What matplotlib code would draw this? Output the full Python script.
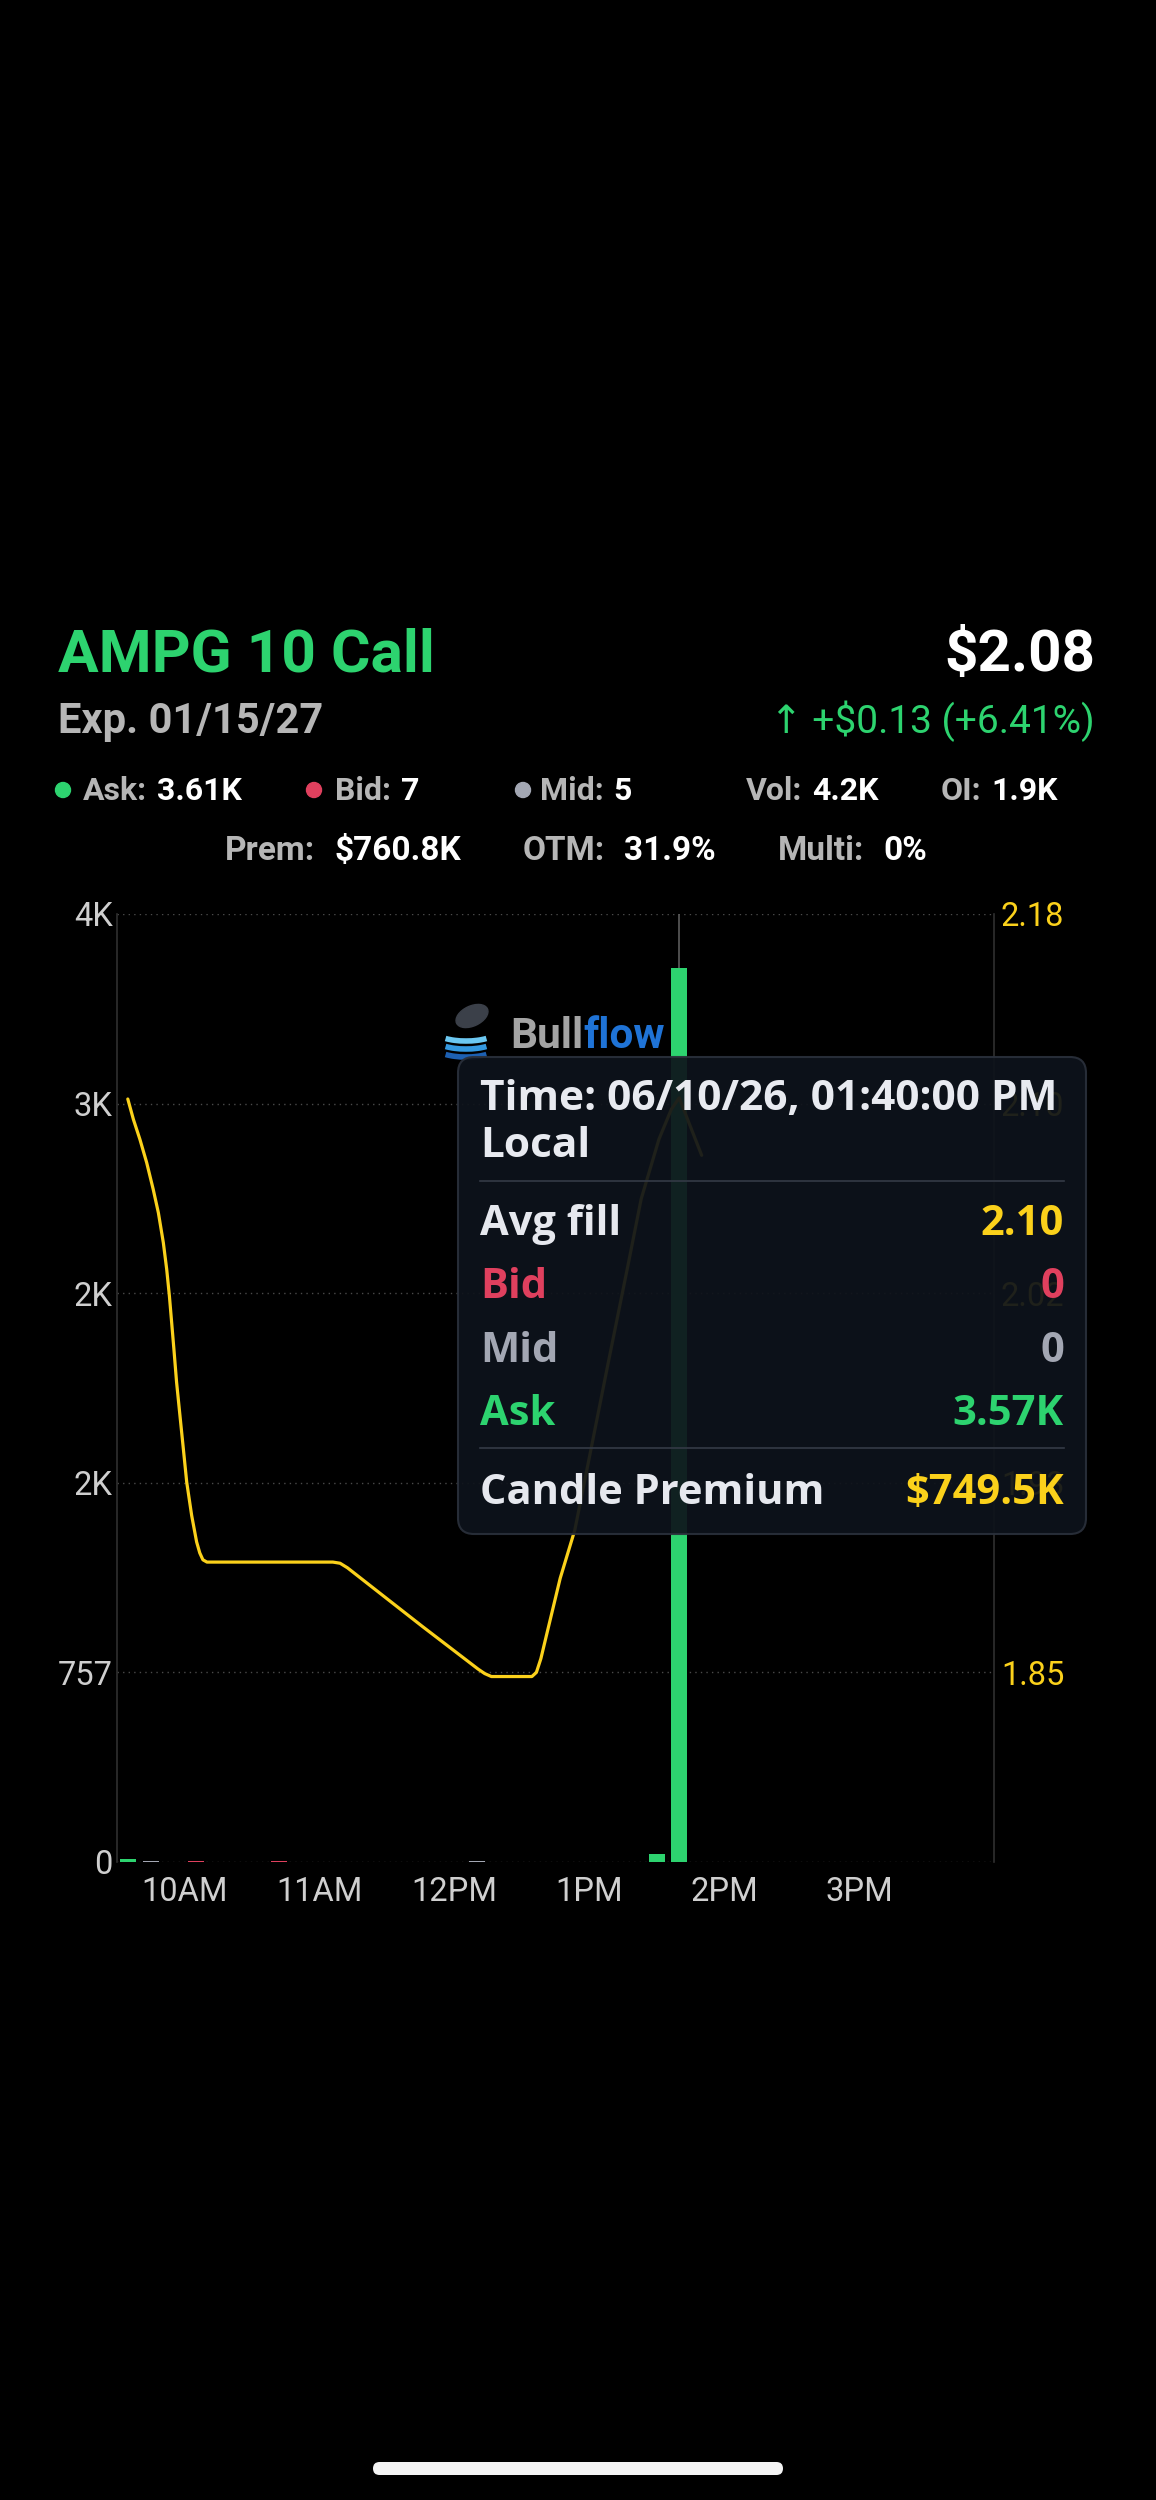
import matplotlib.pyplot as plt
from matplotlib.patches import FancyBboxPatch, Ellipse, Arc
from matplotlib.ticker import FuncFormatter

W, H = 1156, 2500

GREEN = "#2dd36f"
YELLOW = "#fbd11b"
RED = "#e0405e"
MIDGRAY = "#a3a7b3"
LABEL = "#b6b6b6"
TICK = "#cfcfcf"

# header
contract = "AMPG 10 Call"
last_price = "$2.08"
expiry = "Exp. 01/15/27"
change = "↑ +$0.13 (+6.41%)"
row1_labels = ["Ask:", "Bid:", "Mid:", "Vol:", "OI:"]
row1_values = ["3.61K", "7", "5", "4.2K", "1.9K"]
row2_labels = ["Prem:", "OTM:", "Multi:"]
row2_values = ["$760.8K", "31.9%", "0%"]

# volume bars, minutes after the 9:30 open
bar_minutes = [5, 15, 35, 72, 160, 240, 250]
bar_side = ["ask", "mid", "bid", "bid", "mid", "ask", "ask"]
bar_volume = [10, 3, 4, 3, 2, 30, 3570]

# avg fill price line, minutes after the open
price_minutes = [4.8, 7.3, 10.2, 13.2, 16.1, 18.4, 20.6, 22.1, 23.3, 24.3, 25.3, 26.5,
                 28.0, 29.5, 31.0, 33.2, 35.4, 36.8, 38.2, 40.0, 96.0, 99.2, 102.5,
                 135.8, 160.5, 163.5, 166.5, 184.5, 186.5, 188.5, 190.7, 197.1, 203.6,
                 207.9, 218.3, 227.2, 233.1, 241.0, 246.5, 250.0, 260.0]
price_values = [2.0995, 2.0906, 2.0819, 2.0718, 2.0602, 2.0500, 2.0370, 2.0254, 2.0138,
                2.0023, 1.9907, 1.9762, 1.9617, 1.9473, 1.9328, 1.9183, 1.9068, 1.9020,
                1.8990, 1.8980, 1.8980, 1.8975, 1.8955, 1.8700, 1.8515, 1.8495, 1.8482,
                1.8482, 1.8500, 1.8560, 1.8650, 1.8910, 1.9120, 1.9330, 1.9840, 2.0270,
                2.0560, 2.0820, 2.0950, 2.1000, 2.0750]

vol_ticks = [0, 757, 1514, 2271, 3028, 3785]
price_ticks = [1.85, 1.9325, 2.015, 2.0975, 2.18]
price_tick_labels = ["1.85", "1.93", "2.02", "2.10", "2.18"]
time_ticks = [30, 90, 150, 210, 270, 330]
time_labels = ["10AM", "11AM", "12PM", "1PM", "2PM", "3PM"]

# tooltip
tip_time = "Time: 06/10/26, 01:40:00 PM"
tip_zone = "Local"
tip_labels = ["Avg fill", "Bid", "Mid", "Ask"]
tip_values = ["2.10", "0", "0", "3.57K"]
tip_label_colors = ["#e6e8ee", RED, MIDGRAY, GREEN]
tip_value_colors = [YELLOW, RED, MIDGRAY, GREEN]
tip_premium = ("Candle Premium", "$749.5K")

side_colors = {"ask": GREEN, "bid": RED, "mid": MIDGRAY}

plt.rcParams["font.family"] = ["Roboto", "DejaVu Sans"]
TIPFONT = ["Open Sans", "DejaVu Sans"]

fig = plt.figure(figsize=(W / 100, H / 100), dpi=100, facecolor="black")
renderer = fig.canvas.get_renderer()
T = fig.dpi_scale_trans


def P(x, y):
    # screen pixels (from top-left) -> inches
    return x / 100, (H - y) / 100


def txt(x, y, s, **kw):
    kw.setdefault("va", "baseline")
    return fig.text(*P(x, y), s, transform=T, **kw)


def width(t):
    return t.get_window_extent(renderer).width


# ---- header ----
txt(58, 671, contract, color=GREEN, fontsize=43.5, fontweight="bold")
txt(1095, 671, last_price, color="white", fontsize=42, fontweight="bold", ha="right")
txt(58, 733, expiry, color=LABEL, fontsize=30, fontweight="bold")
txt(1095, 733, change, color=GREEN, fontsize=28, ha="right")

row1_x = [83, 335, 540, 746, 941]
dot_x = [63, 314, 523]
dot_colors = [GREEN, RED, MIDGRAY]
for x, c in zip(dot_x, dot_colors):
    fig.patches.append(Ellipse(P(x, 790), 0.15, 0.15, transform=T, color=c))

for x, lab, val in zip(row1_x, row1_labels, row1_values):
    t = txt(x, 800, lab, color=LABEL, fontsize=23, fontweight="bold")
    txt(x + width(t) + 10, 800, val, color="white", fontsize=23, fontweight="bold")

row2_x = [225, 523, 778]
for x, lab, val in zip(row2_x, row2_labels, row2_values):
    t = txt(x, 860, lab, color=LABEL, fontsize=24, fontweight="bold")
    txt(x + width(t) + 19, 860, val, color="white", fontsize=24, fontweight="bold")

# ---- chart ----
left, right, top, bottom = 117, 994, 914, 1862
ax = fig.add_axes([left / W, 1 - bottom / H, (right - left) / W, (bottom - top) / H])
ax.set_facecolor("none")
ax.set_xlim(0, 390)
ax.set_ylim(0, 3785)

ax.axvline(250, color="#5c5c5c", lw=1.2, zorder=1)
ax.bar(bar_minutes, bar_volume, width=7, color=[side_colors[s] for s in bar_side], zorder=2)

ax.set_yticks(vol_ticks)
ax.yaxis.set_major_formatter(FuncFormatter(
    lambda v, _: f"{v / 1000:.0f}K" if v >= 1000 else f"{v:.0f}"))
ax.set_xticks(time_ticks, labels=time_labels)
ax.yaxis.grid(True, color="#4a4a4a", linestyle=(0, (1, 3)), lw=1)
ax.set_axisbelow(True)
ax.tick_params(axis="y", length=0, pad=3, labelsize=23.5, labelcolor=TICK)
ax.tick_params(axis="x", length=0, pad=10, labelsize=23.5, labelcolor=TICK)
for s in ["top", "bottom"]:
    ax.spines[s].set_visible(False)
for s in ["left", "right"]:
    ax.spines[s].set_color("#2f2f2f")
    ax.spines[s].set_linewidth(1.2)

ax2 = ax.twinx()
ax2.set_ylim(1.85 - 757 * (0.33 / 3028), 2.18)
ax2.plot(price_minutes, price_values, color=YELLOW, lw=2.3, solid_joinstyle="round",
         solid_capstyle="round", zorder=3)
ax2.set_yticks(price_ticks, labels=price_tick_labels)
ax2.tick_params(axis="y", length=0, pad=5, labelsize=23.5, labelcolor=YELLOW)
for s in ["top", "bottom", "left", "right"]:
    ax2.spines[s].set_visible(False)

# ---- watermark ----
for i, c in enumerate(["#6cc8f2", "#3499e0", "#1d60b2"]):
    fig.patches.append(Arc(P(466, 1033 + i * 8), 0.56, 0.16, theta1=195, theta2=345,
                           transform=T, color=c, lw=4, zorder=5))
fig.patches.append(Ellipse(P(472, 1016), 0.34, 0.2, angle=25, transform=T,
                           color="#3b4049", zorder=4))
tb = txt(510, 1048, "Bull", color="#a4a4a4", fontsize=30.5, fontweight="bold", zorder=5)
txt(510 + width(tb), 1048, "flow", color="#1f73d6", fontsize=30.5, fontweight="bold", zorder=5)

# ---- tooltip ----
x0, y0, x1, y1 = 458, 1057, 1086, 1534
bx, by = P(x0, y1)
fig.patches.append(FancyBboxPatch((bx, by), (x1 - x0) / 100, (y1 - y0) / 100,
                                  boxstyle="round,pad=0,rounding_size=0.16", transform=T,
                                  facecolor="#0e131b", edgecolor="#2a303b", lw=1.5,
                                  alpha=0.93, zorder=10))
txt(480, 1110, tip_time, color="#e8eaf0", fontsize=30.5, fontweight="bold",
    family=TIPFONT, zorder=11)
txt(480, 1157, tip_zone, color="#e8eaf0", fontsize=30.5, fontweight="bold",
    family=TIPFONT, zorder=11)
for yy in [1181, 1448]:
    fig.lines.append(plt.Line2D([4.80, 10.64], [(H - yy) / 100] * 2, transform=T,
                                color="#343a46", lw=1.2, zorder=11))
for yb, lab, val, lc, vc in zip([1235, 1298, 1362, 1425], tip_labels, tip_values,
                                tip_label_colors, tip_value_colors):
    txt(480, yb, lab, color=lc, fontsize=30, fontweight="bold", family=TIPFONT, zorder=11)
    txt(1064, yb, val, color=vc, fontsize=30, fontweight="bold", ha="right",
        family=TIPFONT, zorder=11)
txt(480, 1504, tip_premium[0], color="#e6e8ee", fontsize=30, fontweight="bold",
    family=TIPFONT, zorder=11)
txt(1064, 1504, tip_premium[1], color=YELLOW, fontsize=30, fontweight="bold",
    ha="right", family=TIPFONT, zorder=11)

# home indicator
hx, hy = P(373, 2475)
fig.patches.append(FancyBboxPatch((hx, hy), 4.10, 0.13, boxstyle="round,pad=0,rounding_size=0.065",
                                  transform=T, facecolor="#f4f4f4", edgecolor="none"))

fig.savefig("out.png", dpi=100, facecolor="black")
